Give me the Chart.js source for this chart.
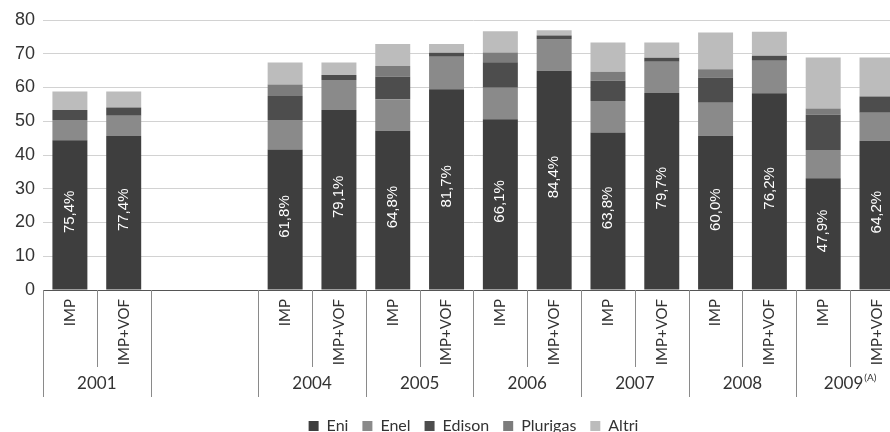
<!DOCTYPE html>
<html>
<head>
<meta charset="utf-8">
<script src="https://cdn.jsdelivr.net/npm/chart.js@4.4.1/dist/chart.umd.min.js"></script>
<style>
  html, body { margin: 0; padding: 0; background: #fff; overflow: hidden; }
  #wrap { width: 904px; height: 432px; }
</style>
</head>
<body>
<div id="wrap"><canvas id="gasChart"></canvas></div>
<script>
// bar labels (two slots per year, 2002-2003 left empty)
var barLabels = ['IMP', 'IMP+VOF', '', '', 'IMP', 'IMP+VOF', 'IMP', 'IMP+VOF', 'IMP', 'IMP+VOF',
                 'IMP', 'IMP+VOF', 'IMP', 'IMP+VOF', 'IMP', 'IMP+VOF'];
// year groups: first slot, last slot + 1, text
var yearStart = [0, 4, 6, 8, 10, 12, 14];
var yearEnd   = [2, 6, 8, 10, 12, 14, 16];
var yearText  = ['2001', '2004', '2005', '2006', '2007', '2008', '2009'];

// series values
var eni      = [44.4, 45.6, null, null, 41.6, 53.3, 47.2, 59.5, 50.6, 65.0, 46.7, 58.4, 45.7, 58.3, 33.1, 44.2];
var enel     = [6.0, 6.0, null, null, 8.8, 8.9, 9.3, 9.6, 9.3, 9.4, 9.3, 9.2, 9.8, 9.6, 8.4, 8.3];
var edison   = [2.9, 2.5, null, null, 7.1, 1.5, 6.7, 1.2, 7.6, 1.0, 6.0, 1.2, 7.5, 1.5, 10.4, 4.8];
var plurigas = [0, 0, null, null, 3.4, 0, 3.2, 0, 2.9, 0, 2.7, 0, 2.4, 0, 1.9, 0];
var altri    = [5.5, 4.7, null, null, 6.5, 3.7, 6.5, 2.6, 6.3, 1.6, 8.6, 4.5, 10.9, 7.1, 15.1, 11.6];

// Eni share written inside the bars
var eniShare = ['75,4%', '77,4%', '', '', '61,8%', '79,1%', '64,8%', '81,7%', '66,1%', '84,4%',
                '63,8%', '79,7%', '60,0%', '76,2%', '47,9%', '64,2%'];

var yTicks = [0, 10, 20, 30, 40, 50, 60, 70, 80];

//plugin to write the percentages inside the Eni bars
var shareLabels = {
  id: 'shareLabels',
  afterDatasetsDraw: function(chart) {
    var ctx = chart.ctx;
    var bars = chart.getDatasetMeta(0).data;
    ctx.save();
    ctx.fillStyle = '#ffffff';
    ctx.font = '15px "Liberation Sans", Arial, sans-serif';
    ctx.textAlign = 'center';
    ctx.textBaseline = 'middle';
    for (var i = 0; i < bars.length; i++) {
      if (!eniShare[i]) continue;
      var b = bars[i];
      ctx.save();
      ctx.translate(b.x, (b.y + b.base) / 2 - 3);
      ctx.rotate(-Math.PI / 2);
      ctx.fillText(eniShare[i], 0, 0);
      ctx.restore();
    }
    ctx.restore();
  }
};

//plugin for the separators under the axis and the year row
var yearRow = {
  id: 'yearRow',
  afterDraw: function(chart) {
    var ctx = chart.ctx;
    var xs = chart.scales.x;
    var slot = (xs.right - xs.left) / barLabels.length;
    var top = xs.top;
    ctx.save();
    ctx.strokeStyle = '#8a8a8a';
    ctx.lineWidth = 1;
    for (var i = 0; i < yearStart.length; i++) {
      var x0 = xs.left + yearStart[i] * slot;
      var x1 = xs.left + yearEnd[i] * slot;
      // long lines at group edges
      ctx.beginPath();
      ctx.moveTo(Math.round(x0) + 0.5, top);
      ctx.lineTo(Math.round(x0) + 0.5, top + 107);
      ctx.moveTo(Math.round(x1) + 0.5, top);
      ctx.lineTo(Math.round(x1) + 0.5, top + 107);
      // short line between IMP and IMP+VOF
      var xm = Math.round((x0 + x1) / 2) + 0.5;
      ctx.moveTo(xm, top);
      ctx.lineTo(xm, top + 77);
      ctx.stroke();

      // year text
      var cx = (x0 + x1) / 2;
      ctx.fillStyle = '#333';
      ctx.textBaseline = 'middle';
      ctx.font = '17px Lato, sans-serif';
      if (yearText[i] == '2009') {
        var w1 = ctx.measureText(yearText[i]).width;
        ctx.font = '10px Lato, sans-serif';
        var w2 = ctx.measureText('(A)').width;
        var sx = cx - (w1 + w2 + 1) / 2;
        ctx.textAlign = 'left';
        ctx.font = '17px Lato, sans-serif';
        ctx.fillText(yearText[i], sx, top + 94);
        ctx.font = '10px Lato, sans-serif';
        ctx.fillText('(A)', sx + w1 + 1, top + 88);
      } else {
        ctx.textAlign = 'center';
        ctx.fillText(yearText[i], cx, top + 94);
      }
    }
    ctx.restore();
  }
};

var chart = new Chart(document.getElementById('gasChart'), {
  type: 'bar',
  data: {
    labels: barLabels,
    datasets: [
      { label: 'Eni', data: eni, backgroundColor: '#3e3e3e' },
      { label: 'Enel', data: enel, backgroundColor: '#8a8a8a' },
      { label: 'Edison', data: edison, backgroundColor: '#4d4d4d' },
      { label: 'Plurigas', data: plurigas, backgroundColor: '#7c7c7c' },
      { label: 'Altri', data: altri, backgroundColor: '#bcbcbc' }
    ]
  },
  options: {
    responsive: true,
    maintainAspectRatio: false,
    animation: false,
    layout: { padding: { top: 20, left: 0, right: 0, bottom: 0 } },
    datasets: { bar: { categoryPercentage: 1.0, barPercentage: 0.65 } },
    plugins: {
      tooltip: { enabled: false },
      legend: {
        position: 'bottom',
        fullSize: false,
        maxHeight: 28,
        labels: {
          boxWidth: 10,
          boxHeight: 10,
          padding: 14,
          color: '#333',
          font: { family: 'Lato, sans-serif', size: 16 }
        }
      }
    },
    scales: {
      x: {
        stacked: true,
        grid: { display: false, drawTicks: false },
        border: { display: true, color: '#555', width: 1 },
        ticks: {
          autoSkip: false,
          minRotation: 90,
          maxRotation: 90,
          padding: 9,
          color: '#333',
          font: { family: 'Lato, sans-serif', size: 15 }
        },
        afterFit: function(scale) { scale.height = 114; }
      },
      y: {
        stacked: true,
        min: 0,
        max: 80,
        afterBuildTicks: function(scale) {
          scale.ticks = yTicks.map(function(v) { return { value: v }; });
        },
        grid: { color: '#d2d2d2', drawTicks: false },
        border: { display: false },
        ticks: {
          padding: 8,
          color: '#333',
          font: { family: '"Liberation Sans", Arial, sans-serif', size: 18 }
        },
        afterFit: function(scale) { scale.width = 43; }
      }
    }
  },
  plugins: [shareLabels, yearRow]
});
</script>
</body>
</html>
